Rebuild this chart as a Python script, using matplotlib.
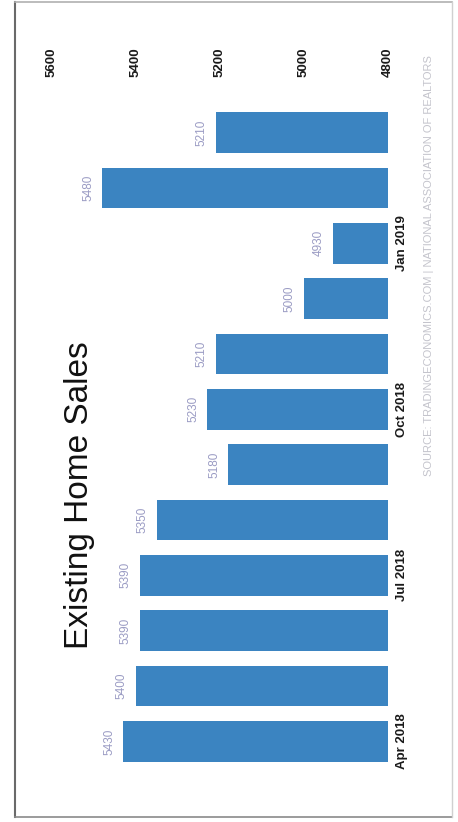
import matplotlib
matplotlib.use("Agg")
import matplotlib.pyplot as plt
from matplotlib.lines import Line2D

months = ["Apr 2018", "May 2018", "Jun 2018", "Jul 2018", "Aug 2018", "Sep 2018",
          "Oct 2018", "Nov 2018", "Dec 2018", "Jan 2019", "Feb 2019", "Mar 2019"]
sales = [5430, 5400, 5390, 5390, 5350, 5180, 5230, 5210, 5000, 4930, 5480, 5210]
value_ticks = [4800, 5000, 5200, 5400, 5600]
shown_months = ["Apr 2018", "Jul 2018", "Oct 2018", "Jan 2019"]
title = "Existing Home Sales"
source = "SOURCE: TRADINGECONOMICS.COM | NATIONAL ASSOCIATION OF REALTORS"

W, H = 458, 822
fig = plt.figure(figsize=(W / 100, H / 100), dpi=100)
fig.patch.set_facecolor("white")

narrow = ["Liberation Sans Narrow", "Liberation Sans", "DejaVu Sans"]

left, right = 52 / W, 388 / W
bottom, top = (H - 769) / H, (H - 105) / H
ax = fig.add_axes([left, bottom, right - left, top - bottom])

ypos = list(range(len(months)))
ax.barh(ypos, [v - 4800 for v in sales], left=4800, height=0.74, color="#3b84c1")
ax.set_xlim(5600, 4800)
ax.set_ylim(-0.5, len(months) - 0.5)

for side in ["top", "bottom", "left", "right"]:
    ax.spines[side].set_visible(False)

ax.xaxis.set_ticks_position("top")
ax.set_xticks(value_ticks)
ax.set_xticklabels([str(v) for v in value_ticks], rotation=90, family=narrow,
                   fontweight="bold", fontsize=9.5, color="#1a1a1a")
ax.tick_params(axis="x", length=0, pad=20)

ax.yaxis.set_ticks_position("right")
ax.set_yticks([months.index(m) for m in shown_months])
ax.set_yticklabels(shown_months, rotation=90, va="center", family=narrow,
                   fontweight="bold", fontsize=9.5, color="#1a1a1a")
ax.tick_params(axis="y", length=0, pad=6)

for i, v in enumerate(sales):
    ax.annotate(str(v), xy=(v, i), xytext=(-6, 0), textcoords="offset points",
                rotation=90, ha="right", va="center", family=narrow,
                fontsize=8.5, color="#9b9cc4")

fig.text(80 / W, 1 - 495 / H, title, rotation=90, ha="center", va="center",
         family=["Liberation Sans", "DejaVu Sans"], fontsize=24, color="#111111")

fig.text(429 / W, 1 - 266 / H, source, rotation=90, ha="center", va="center",
         family=["Liberation Sans", "DejaVu Sans"], fontsize=8, color="#c4c4cc")

fx0, fx1, fy0, fy1 = 15 / W, 452 / W, 1 - 817 / H, 1 - 2 / H
fig.add_artist(Line2D([fx0, fx0], [fy0, fy1], transform=fig.transFigure, color="#6a6a6a", lw=1.5))
fig.add_artist(Line2D([fx0, fx1], [fy1, fy1], transform=fig.transFigure, color="#b0b0b0", lw=1.2))
fig.add_artist(Line2D([fx0, fx1], [fy0, fy0], transform=fig.transFigure, color="#8a8a8a", lw=1.2))
fig.add_artist(Line2D([fx1, fx1], [fy0, fy1], transform=fig.transFigure, color="#d0d0d0", lw=1.0))

fig.savefig("out.png", dpi=100, facecolor="white")
